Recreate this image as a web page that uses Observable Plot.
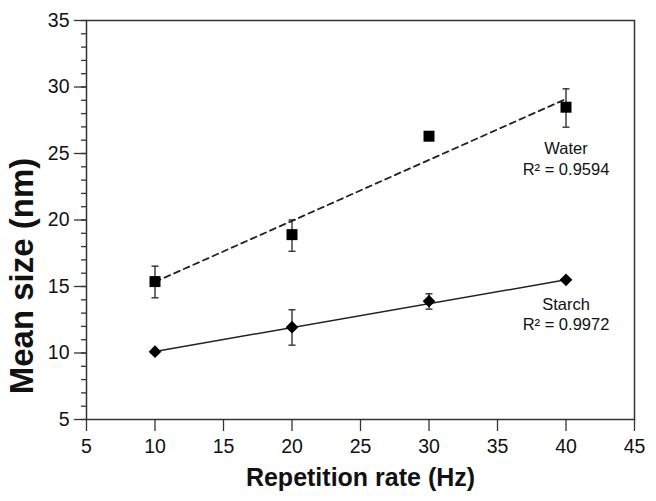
<!DOCTYPE html>
<html>
<head>
<meta charset="utf-8">
<script src="https://cdn.jsdelivr.net/npm/d3@7"></script>
<script src="https://cdn.jsdelivr.net/npm/@observablehq/plot@0.6"></script>
<style>
  html, body { margin: 0; padding: 0; background: #fff; }
  #chart svg { font-family: "Liberation Sans", Arial, sans-serif; }
</style>
</head>
<body>
<div id="chart"></div>
<script>
// Repetition rates (Hz)
const rates = [10, 20, 30, 40];

// Water series: mean size (nm) and error-bar bounds
const waterMean = [15.37, 18.9, 26.3, 28.48];
const waterLow  = [14.15, 17.65, 26.05, 26.98];
const waterHigh = [16.53, 20.0, 26.55, 29.86];

// Starch series
const starchMean = [10.1, 11.94, 13.9, 15.5];
const starchLow  = [10.0, 10.59, 13.3, 15.4];
const starchHigh = [10.2, 13.25, 14.45, 15.6];

// Linear fit lines at x = 10 and x = 40
const fitX = [10, 40];
const waterFit = [15.35, 29.1];
const starchFit = [10.12, 15.5];

// Annotation labels
const labelText = ["Water\nR² = 0.9594", "Starch\nR² = 0.9972"];
const labelX = [40, 40];
const labelY = [24.66, 12.97];

// Axis ticks
const xTicks = [5, 10, 15, 20, 25, 30, 35, 40, 45];
const yTicks = [5, 10, 15, 20, 25, 30, 35];
const yMinor = d3.range(5, 36, 1);

const water = rates.map((x, i) => ({x, y: waterMean[i], lo: waterLow[i], hi: waterHigh[i]}));
const starch = rates.map((x, i) => ({x, y: starchMean[i], lo: starchLow[i], hi: starchHigh[i]}));
const wFit = fitX.map((x, i) => ({x, y: waterFit[i]}));
const sFit = fitX.map((x, i) => ({x, y: starchFit[i]}));
const labels = labelText.map((t, i) => ({t, x: labelX[i], y: labelY[i]}));

const capSymbol = {
  draw(context) {
    context.moveTo(-3.5, 0);
    context.lineTo(3.5, 0);
  }
};

const ink = "#111";
const axisInk = "#333";

const chart = Plot.plot({
  width: 656,
  height: 501,
  marginLeft: 86,
  marginRight: 22,
  marginTop: 20,
  marginBottom: 82,
  style: {fontFamily: "'Liberation Sans', Arial, sans-serif", background: "#fff"},
  x: {domain: [5, 45]},
  y: {domain: [5, 35]},
  marks: [
    Plot.frame({stroke: axisInk, strokeWidth: 1.5}),
    Plot.axisY(yMinor, {tickSize: 5, text: null, stroke: axisInk, strokeWidth: 1.3, label: null}),
    Plot.axisY(yTicks, {tickSize: 12, tickPadding: 5, fontSize: 19.5, fill: ink, stroke: axisInk, strokeWidth: 1.3, label: null}),
    Plot.axisX(xTicks, {tickSize: 12, tickPadding: 8, fontSize: 19.5, fill: ink, stroke: axisInk, strokeWidth: 1.3, label: null}),
    // fit lines
    Plot.line(wFit, {x: "x", y: "y", stroke: "#222", strokeWidth: 1.8, strokeDasharray: "6,4.5"}),
    Plot.line(sFit, {x: "x", y: "y", stroke: "#222", strokeWidth: 1.5}),
    // error bars
    Plot.ruleX(water, {x: "x", y1: "lo", y2: "hi", stroke: "#222", strokeWidth: 1.3}),
    Plot.dot(water, {x: "x", y: "lo", symbol: capSymbol, stroke: "#222", strokeWidth: 1.3}),
    Plot.dot(water, {x: "x", y: "hi", symbol: capSymbol, stroke: "#222", strokeWidth: 1.3}),
    Plot.ruleX(starch, {x: "x", y1: "lo", y2: "hi", stroke: "#222", strokeWidth: 1.3}),
    Plot.dot(starch, {x: "x", y: "lo", symbol: capSymbol, stroke: "#222", strokeWidth: 1.3}),
    Plot.dot(starch, {x: "x", y: "hi", symbol: capSymbol, stroke: "#222", strokeWidth: 1.3}),
    // markers
    Plot.dot(water, {x: "x", y: "y", symbol: "square", r: 6.2, fill: "#000", stroke: null}),
    Plot.dot(starch, {x: "x", y: "y", symbol: "diamond2", r: 5.7, fill: "#000", stroke: null}),
    // annotations
    Plot.text(labels, {x: "x", y: "y", text: "t", fontSize: 16.5, fill: ink, lineHeight: 1.25, lineAnchor: "middle"}),
    // axis titles
    Plot.text(["Repetition rate (Hz)"], {frameAnchor: "bottom", dy: 58, text: d => d, fontSize: 25, fontWeight: "bold", fill: ink, lineAnchor: "middle"}),
    Plot.text(["Mean size (nm)"], {frameAnchor: "left", dx: -64, dy: 56, rotate: -90, textAnchor: "middle", text: d => d, fontSize: 33, fontWeight: "bold", fill: ink, lineAnchor: "middle"})
  ]
});

document.getElementById("chart").appendChild(chart);
</script>
</body>
</html>
